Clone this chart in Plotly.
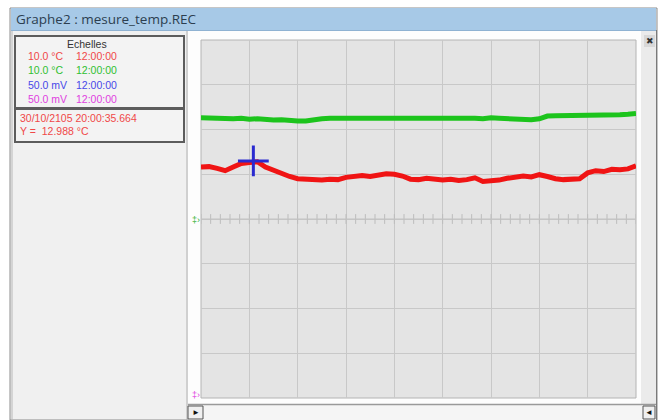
import numpy as np
import plotly.graph_objects as go

W, H = 664, 420

# ---- data ----
time_h = list(range(0, 110, 2))  # hours, 12:00:00 per division, 9 divisions
temp_red = [11.6, 11.7, 11.3, 10.8, 11.6, 12.4, 12.6, 12.8, 11.6, 10.9,
            10.0, 9.5, 9.0, 8.9, 8.8, 8.7, 8.9, 8.8, 9.3, 9.6,
            9.7, 9.5, 9.9, 10.1, 10.0, 9.6, 8.9, 8.8, 9.1, 9.0,
            8.7, 8.9, 8.6, 8.8, 9.2, 8.4, 8.5, 8.7, 9.1, 9.4,
            9.6, 9.4, 9.9, 9.5, 9.0, 8.8, 8.9, 9.0, 10.3, 10.8,
            10.6, 11.1, 11.0, 11.2, 11.9]
temp_green = [22.6, 22.5, 22.6, 22.5, 22.4, 22.5, 22.3, 22.4, 22.2, 22.1,
              22.2, 22.0, 21.9, 21.9, 22.2, 22.4, 22.5, 22.5, 22.6, 22.6,
              22.5, 22.6, 22.6, 22.7, 22.6, 22.6, 22.5, 22.6, 22.6, 22.7,
              22.6, 22.5, 22.6, 22.6, 22.5, 22.4, 22.6, 22.5, 22.4, 22.5,
              22.3, 22.2, 22.4, 23.0, 23.1, 23.1, 23.2, 23.1, 23.2, 23.2,
              23.3, 23.2, 23.3, 23.4, 23.6]
cursor_t = [13.0]
cursor_y = [12.988]

scale_labels = ["10.0 °C", "10.0 °C", "50.0 mV", "50.0 mV"]
scale_times = ["12:00:00", "12:00:00", "12:00:00", "12:00:00"]
scale_colors = ["#f04848", "#30c030", "#4848e8", "#e040e0"]
title_text = "Graphe2 : mesure_temp.REC"
cursor_date = "30/10/2105 20:00:35.664"
cursor_val = "Y =  12.988 °C"

x_div, y_div = 12, 10
x_range = [0, 108]
y_range = [-40, 40]


def px(x):
    return x / W


def py(y):
    return 1 - y / H


def rect(x0, y0, x1, y1, fill, line=None, lw=1):
    return dict(type="rect", xref="paper", yref="paper",
                x0=px(x0), x1=px(x1), y0=py(y1), y1=py(y0),
                fillcolor=fill, line=dict(color=line or fill, width=lw if line else 0),
                layer="below")


def hline(x0, x1, y, color, lw=1):
    return dict(type="line", xref="paper", yref="paper", x0=px(x0), x1=px(x1),
                y0=py(y), y1=py(y), line=dict(color=color, width=lw), layer="below")


def vline(x, y0, y1, color, lw=1):
    return dict(type="line", xref="paper", yref="paper", x0=px(x), x1=px(x),
                y0=py(y0), y1=py(y1), line=dict(color=color, width=lw), layer="below")


def text(x, y, s, color="#333", size=9, xanchor="left", family="Liberation Sans"):
    return dict(xref="paper", yref="paper", x=px(x), y=py(y), text=s, showarrow=False,
                xanchor=xanchor, yanchor="middle", font=dict(size=size, color=color, family=family))


fig = go.Figure()

# minor ticks along centre line
minor = np.arange(x_range[0], x_range[1] + 0.01, x_div / 5)
fig.add_trace(go.Scatter(x=minor, y=np.zeros_like(minor), mode="markers",
                         marker=dict(symbol="line-ns", size=7, color="#bcbcbc",
                                     line=dict(color="#bcbcbc", width=1)),
                         hoverinfo="skip", showlegend=False))
fig.add_trace(go.Scatter(x=x_range, y=[0, 0], mode="lines",
                         line=dict(color="#c2c2c2", width=1), hoverinfo="skip", showlegend=False))

fig.add_trace(go.Scatter(x=time_h, y=temp_green, mode="lines",
                         line=dict(color="#1cc41c", width=5), showlegend=False))
fig.add_trace(go.Scatter(x=time_h, y=temp_red, mode="lines",
                         line=dict(color="#f01414", width=5), showlegend=False))
fig.add_trace(go.Scatter(x=cursor_t, y=cursor_y, mode="markers",
                         marker=dict(symbol="cross-thin-open", size=22, color="#2a2ad0",
                                     line=dict(color="#2a2ad0", width=3)),
                         showlegend=False))

shapes = [
    rect(10, 8, 657, 420, "#f0f0f0", "#8c8c8c", 1),
    rect(11, 8, 656, 30, "#a7c9e7"),
    hline(11, 656, 30.5, "#8fb2d2"),
    rect(188, 31, 641, 404, "#fdfdfd"),
    rect(201, 40, 636, 398, "#e4e4e4", "#b4b4b4", 1),
    rect(641, 31, 656, 404, "#ebebeb"),
    vline(656.5, 30, 420, "#7a7a7a", 1),
    rect(188, 405, 656, 420, "#f5f5f5"),
    hline(188, 656, 404.5, "#9a9a9a", 1.5),
    vline(187, 31, 420, "#b0b0b0", 1),
    vline(12, 31, 420, "#b8b8b8", 1),
    rect(15, 36, 184, 108, "#f3f3f3", "#5c5c5c", 2),
    rect(15, 109, 184, 142, "#f3f3f3", "#5c5c5c", 2),
    rect(644, 35, 655, 47, "#d8d8d8"),
    rect(188, 406, 203, 419, "#f0f0f0", "#555555", 1),
    rect(643, 406, 655, 419, "#f0f0f0", "#555555", 1),
]

annotations = [
    text(14, 19, title_text, "#2c3e50", 13.5, family="Open Sans"),
    text(87, 44, "Echelles", "#333333", 10.5, xanchor="center"),
    text(18, 118, cursor_date, "#f04848", 10.5),
    text(18, 131, cursor_val, "#f04848", 10.5),
    text(649.5, 41, "✖", "#333333", 9, xanchor="center"),
    text(195.5, 412.5, "►", "#111111", 8, xanchor="center"),
    text(649, 412.5, "◄", "#111111", 8, xanchor="center"),
    text(190, 220, "‡›", "#30b030", 9),
    text(190, 395, "‡›", "#e040e0", 9),
]
for i, (lab, tm, col) in enumerate(zip(scale_labels, scale_times, scale_colors)):
    yy = 56 + i * 14.3
    annotations.append(text(26, yy, lab, col, 10.5))
    annotations.append(text(74, yy, tm, col, 10.5))

fig.update_layout(
    width=W, height=H, autosize=False,
    margin=dict(l=0, r=0, t=0, b=0),
    paper_bgcolor="#ffffff", plot_bgcolor="rgba(0,0,0,0)",
    shapes=shapes, annotations=annotations,
    xaxis=dict(domain=[px(201), px(636)], range=x_range, dtick=x_div, tick0=0,
               showgrid=True, gridcolor="#c8c8c8", gridwidth=1, zeroline=False,
               showticklabels=False, ticks="", showline=False, fixedrange=True),
    yaxis=dict(domain=[py(398), py(40)], range=y_range, dtick=y_div, tick0=0,
               showgrid=True, gridcolor="#c8c8c8", gridwidth=1, zeroline=False,
               showticklabels=False, ticks="", showline=False, fixedrange=True),
)

fig.write_html("out.html", config={"displayModeBar": False},
               post_script="document.body.style.margin='0';document.body.style.overflow='hidden';")
